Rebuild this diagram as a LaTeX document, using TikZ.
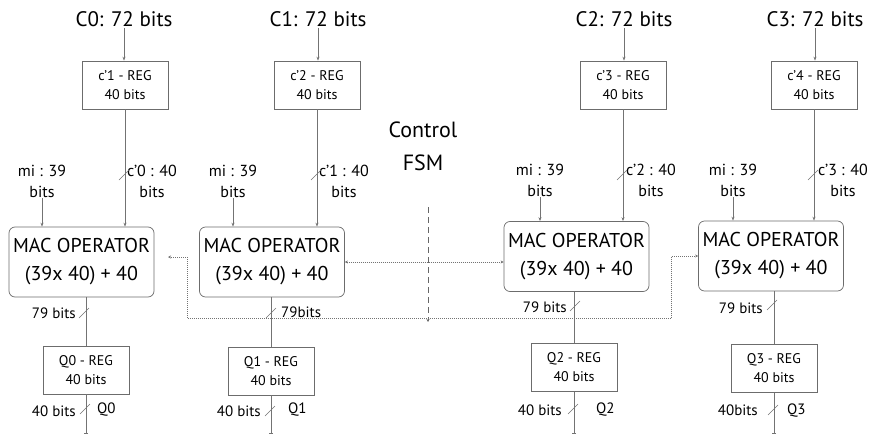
\documentclass[tikz,border=0pt]{standalone}
\usepackage{fontspec}
\setmainfont{PT Sans}
\usetikzlibrary{arrows.meta}

\tikzset{
  regbox/.style={rectangle, draw=gray!85!black, line width=0.7pt, minimum width=86pt, minimum height=48pt,
    align=center, font=\fontsize{14}{19}\selectfont},
  macbox/.style={rectangle, rounded corners=6pt, draw=gray!85!black, line width=0.7pt, minimum width=145pt,
    minimum height=70pt, align=center, font=\fontsize{20}{28}\selectfont},
  wire/.style={draw=gray!90!black, line width=0.7pt, -{Stealth[length=4pt,width=3pt]}},
  plainwire/.style={draw=gray!90!black, line width=0.7pt},
  ctrl/.style={draw=gray!90!black, line width=0.6pt, dash pattern=on 0.8pt off 1.2pt,
    {Stealth[length=3pt,width=3pt]}-{Stealth[length=3pt,width=3pt]}},
  fsmline/.style={draw=gray!80!black, line width=0.6pt, dash pattern=on 6pt off 4pt, -{Stealth[length=3pt,width=3pt]}},
  slash/.style={draw=gray!90!black, line width=0.5pt},
  title/.style={font=\fontsize{21}{26}\selectfont, inner sep=1pt},
  lbl/.style={font=\fontsize{16}{21}\selectfont, align=center, inner sep=1pt},
  widthlbl/.style={font=\fontsize{15}{18}\selectfont, inner sep=1pt}
}
\newcommand{\busmark}[1]{\draw[slash] ([shift={(-6,5)}]#1) -- ([shift={(4,-5)}]#1);}

\begin{document}
\begin{tikzpicture}[x=1pt,y=-1pt]
\useasboundingbox (0,0) rectangle (871,434);

% inputs and coefficient registers
\node[title] (cin0) at (124,19) {C0: 72 bits};
\node[title] (cin1) at (318,19) {C1: 72 bits};
\node[title] (cin2) at (624,19) {C2: 72 bits};
\node[title] (cin3) at (815,19) {C3: 72 bits};
\node[regbox] (creg0) at (125,85) {c’1 - REG\\40 bits};
\node[regbox] (creg1) at (317,85) {c’2 - REG\\40 bits};
\node[regbox] (creg2) at (623,85) {c’3 - REG\\40 bits};
\node[regbox] (creg3) at (814,85) {c’4 - REG\\40 bits};

% MAC operators
\node[macbox] (mac0) at (81.5,262) {MAC OPERATOR\\(39x 40) + 40};
\node[macbox] (mac1) at (272,262) {MAC OPERATOR\\(39x 40) + 40};
\node[macbox] (mac2) at (576.5,256.5) {MAC OPERATOR\\(39x 40) + 40};
\node[macbox] (mac3) at (771,256) {MAC OPERATOR\\(39x 40) + 40};

% output registers
\node[regbox] (qreg0) at (86,370) {Q0 - REG\\40 bits};
\node[regbox] (qreg1) at (271,371) {Q1 - REG\\40 bits};
\node[regbox] (qreg2) at (574,367.5) {Q2 - REG\\40 bits};
\node[regbox] (qreg3) at (774,368.5) {Q3 - REG\\40 bits};

% operand labels
\node[lbl] (mi0) at (42,181) {mi : 39\\bits};
\node[lbl] (mi1) at (233,181) {mi : 39\\bits};
\node[lbl] (mi2) at (540,180) {mi : 39\\bits};
\node[lbl] (mi3) at (733,180) {mi : 39\\bits};
\node[lbl] (cw0) at (152,181) {c’0 : 40\\bits};
\node[lbl] (cw1) at (344,181) {c’1 : 40\\bits};
\node[lbl] (cw2) at (651,180) {c’2 : 40\\bits};
\node[lbl] (cw3) at (843,180) {c’3 : 40\\bits};

% width labels
\node[widthlbl, anchor=east] (pw0) at (77,313) {79 bits};
\node[widthlbl, anchor=west] (pw1) at (280,312) {79bits};
\node[widthlbl, anchor=east] (pw2) at (568,307) {79 bits};
\node[widthlbl, anchor=east] (pw3) at (764,308) {79 bits};
\node[widthlbl, anchor=east] (ow0) at (77,411) {40 bits};
\node[widthlbl, anchor=east] (ow1) at (262,411) {40 bits};
\node[widthlbl, anchor=east] (ow2) at (563,410) {40 bits};
\node[widthlbl, anchor=east] (ow3) at (759,410) {40bits};
\node[widthlbl, anchor=west] (qo0) at (96,410) {Q0};
\node[widthlbl, anchor=west] (qo1) at (287,410) {Q1};
\node[widthlbl, anchor=west] (qo2) at (595,410) {Q2};
\node[widthlbl, anchor=west] (qo3) at (786,411) {Q3};

% control
\node[font=\fontsize{22}{33}\selectfont, align=center] (fsm) at (423,146) {Control\\FSM};
\coordinate (fsmtop) at (428,207);
\coordinate (fsmbot) at (428,322);
\coordinate (busl) at (187,318);
\coordinate (busr) at (671,318);
\coordinate (macl) at (168,257);

% data paths
\foreach \i in {0,...,3}{
  \draw[wire] (cin\i.south) -- (cin\i.south |- creg\i.north);
  \draw[wire] (creg\i.south) -- (creg\i.south |- mac\i.north);
  \draw[wire] (mi\i.south) -- (mi\i.south |- mac\i.north);
  \draw[plainwire] (mac\i.south -| qreg\i) -- (qreg\i.north);
  \coordinate (qout\i) at (qreg\i.south |- 0,434);
  \draw[plainwire, -{Bar[width=4pt]}] (qreg\i.south) -- (qout\i);
}

% bus width marks
\busmark{125,175} \busmark{317,175} \busmark{623,175} \busmark{814,175}
\busmark{85,313} \busmark{272,313} \busmark{576,306} \busmark{773,305}
\busmark{86,409} \busmark{271,411} \busmark{574,409} \busmark{774,410}

% control signals
\draw[fsmline] (fsmtop) -- (fsmbot);
\draw[ctrl] (mac1.east) -- (mac1.east -| mac2.west);
\draw[ctrl] (mac3.west) -| (busr) -| (busl) |- (macl);
\end{tikzpicture}
\end{document}
